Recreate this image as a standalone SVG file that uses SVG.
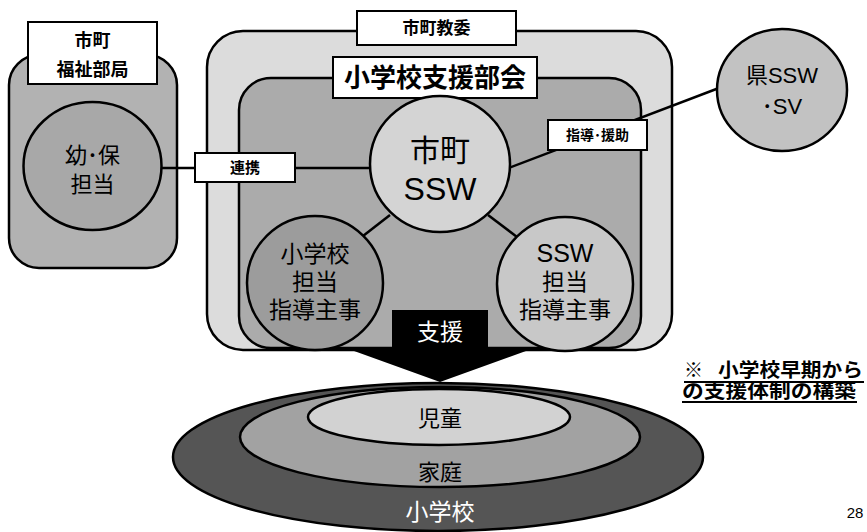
<svg xmlns="http://www.w3.org/2000/svg" width="867" height="532" viewBox="0 0 867 532">
<style>
text{font-family:"Liberation Sans","Noto Sans CJK JP",sans-serif;text-anchor:middle;fill:#000}
.b{font-weight:bold}
.box{stroke:#000;stroke-width:2.5}
.lbl{fill:#fff;stroke:#000;stroke-width:2}
.ln{stroke:#000;stroke-width:2.5;fill:none}
.w{fill:#fff}
</style>
<rect width="867" height="532" fill="#fff"/>

<g id="welfare">
<rect class="box" x="9" y="55" width="168" height="213" rx="30" fill="#b2b2b2"/>
<rect class="lbl" x="28" y="22" width="129" height="62"/>
<text class="b" font-size="18"><tspan x="92.5" y="47">市町</tspan><tspan x="92.5" y="76">福祉部局</tspan></text>
</g>

<g id="board">
<rect class="box" x="207" y="31" width="465" height="319" rx="36" fill="#dcdcdc"/>
<rect class="lbl" x="357" y="11" width="159" height="34"/>
<text class="b" x="436.5" y="34" font-size="17">市町教委</text>
</g>

<g id="subcommittee">
<rect class="box" x="239" y="78" width="402" height="270" rx="32" fill="#ababab"/>
<rect class="lbl" x="333" y="57" width="204" height="41"/>
<text class="b" x="435" y="87" font-size="26">小学校支援部会</text>
</g>

<g id="connectors">
<line class="ln" x1="160" y1="168" x2="372" y2="168"/>
<line class="ln" x1="390" y1="215" x2="363" y2="236"/>
<line class="ln" x1="488" y1="215" x2="517" y2="237"/>
<line class="ln" x1="506" y1="169" x2="719" y2="88"/>
</g>

<g id="youho">
<ellipse class="box" cx="92.5" cy="166" rx="69" ry="64" fill="#a8a8a8"/>
<text font-size="22"><tspan x="92.5" y="163">幼･保</tspan><tspan x="92.5" y="192">担当</tspan></text>
</g>

<g id="renkei">
<rect class="lbl" x="195" y="153" width="100" height="29"/>
<text class="b" x="245" y="173" font-size="15">連携</text>
</g>

<g id="city-ssw">
<ellipse class="box" cx="440" cy="164" rx="70" ry="68" fill="#d4d4d4"/>
<text font-size="30"><tspan x="440" y="161">市町</tspan><tspan x="440" y="200" font-size="32">SSW</tspan></text>
</g>

<g id="school-officer">
<ellipse class="box" cx="315" cy="283" rx="68" ry="67" fill="#9c9c9c"/>
<text font-size="23"><tspan x="315" y="262">小学校</tspan><tspan x="315" y="290">担当</tspan><tspan x="315" y="318">指導主事</tspan></text>
</g>

<g id="ssw-officer">
<ellipse class="box" cx="565" cy="284" rx="68" ry="67" fill="#c8c8c8"/>
<text font-size="23"><tspan x="565" y="262" font-size="25">SSW</tspan><tspan x="565" y="290">担当</tspan><tspan x="565" y="318">指導主事</tspan></text>
</g>

<g id="shidou">
<rect class="lbl" x="548" y="120" width="99" height="30"/>
<text class="b" x="597.5" y="140" font-size="14">指導･援助</text>
</g>

<g id="pref-ssw">
<ellipse class="box" cx="782" cy="90" rx="65" ry="61" fill="#c2c2c2"/>
<text font-size="22"><tspan x="782" y="83">県SSW</tspan><tspan x="782" y="114">･SV</tspan></text>
</g>

<g id="support-arrow">
<path d="M392,310 H488 V347 H537 L440,382 L343,347 H392 Z" fill="#000"/>
<text class="w" x="440" y="340" font-size="23">支援</text>
</g>

<g id="school">
<ellipse class="box" cx="438" cy="457" rx="265" ry="74" fill="#555"/>
<text class="w" x="440" y="520" font-size="23">小学校</text>
</g>
<g id="family">
<ellipse class="box" cx="440" cy="437" rx="200" ry="50" fill="#a2a2a2"/>
<text x="440" y="480" font-size="22">家庭</text>
</g>
<g id="child">
<ellipse class="box" cx="439" cy="417" rx="131" ry="28" fill="#d2d2d2"/>
<text x="440" y="426" font-size="22">児童</text>
</g>

<g id="note">
<text class="b" font-size="19" style="text-anchor:start"><tspan x="684" y="377">※</tspan><tspan x="718" y="377" textLength="145" lengthAdjust="spacingAndGlyphs">小学校早期から</tspan><tspan x="682" y="398" textLength="174" lengthAdjust="spacingAndGlyphs">の支援体制の構築</tspan></text>
<line x1="684" y1="382" x2="864" y2="382" stroke="#000" stroke-width="2"/>
<line x1="682" y1="402" x2="857" y2="402" stroke="#000" stroke-width="2"/>
</g>

<text x="855" y="518" font-size="15">28</text>
</svg>
